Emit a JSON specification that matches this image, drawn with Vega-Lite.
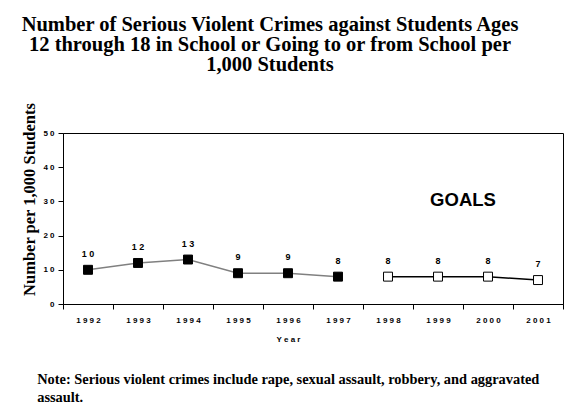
{
  "$schema": "https://vega.github.io/schema/vega-lite/v6.json",
  "autosize": {"type": "pad"},
  "padding": {"left": 20, "top": 14, "right": 0, "bottom": 0},
  "background": "white",
  "config": {
    "view": {"stroke": "black", "strokeWidth": 1},
    "axis": {"labelFont": "Liberation Sans", "labelFontWeight": "bold", "labelColor": "black", "domainColor": "black", "tickColor": "black", "grid": false}
  },
  "title": {
    "text": ["Note: Serious violent crimes include rape, sexual assault, robbery, and aggravated", "assault."],
    "orient": "bottom",
    "anchor": "start",
    "font": "Liberation Serif",
    "fontSize": 14.4,
    "fontWeight": "bold",
    "color": "black",
    "lineHeight": 18,
    "offset": 29,
    "dx": 17
  },
  "vconcat": [
    {
      "width": 500,
      "height": 171,
      "title": {
        "text": ["Number of Serious Violent Crimes against Students Ages", "12 through 18 in School or Going to or from School per", "1,000 Students"],
        "font": "Liberation Serif",
        "fontSize": 20.5,
        "fontWeight": "bold",
        "color": "black",
        "lineHeight": 20,
        "anchor": "middle",
        "dx": -43,
        "offset": 27
      },
      "data": {
        "values": [
          {"year": 1992, "value": 10, "series": "actual"},
          {"year": 1993, "value": 12, "series": "actual"},
          {"year": 1994, "value": 13, "series": "actual"},
          {"year": 1995, "value": 9, "series": "actual"},
          {"year": 1996, "value": 9, "series": "actual"},
          {"year": 1997, "value": 8, "series": "actual"},
          {"year": 1998, "value": 8, "series": "goal"},
          {"year": 1999, "value": 8, "series": "goal"},
          {"year": 2000, "value": 8, "series": "goal"},
          {"year": 2001, "value": 7, "series": "goal"}
        ]
      },
      "encoding": {
        "x": {
          "field": "year",
          "type": "ordinal",
          "scale": {"type": "band", "paddingInner": 0, "paddingOuter": 0},
          "axis": {
            "title": "Y e a r",
            "titleFont": "Liberation Sans",
            "titleFontSize": 8,
            "titleFontWeight": "bold",
            "titleColor": "black",
            "titleX": 225,
            "titlePadding": 11,
            "labelAngle": 0,
            "labelFontSize": 8,
            "labelPadding": 7,
            "tickBand": "extent",
            "tickSize": 5,
            "labelExpr": "replace(datum.label, regexp('(\\\\d)(?=\\\\d)', 'g'), '$1 ')"
          }
        },
        "y": {
          "field": "value",
          "type": "quantitative",
          "scale": {"domain": [0, 50]},
          "axis": {
            "title": "Number per 1,000 Students",
            "titleFont": "Liberation Serif",
            "titleFontSize": 16.5,
            "titleFontWeight": "bold",
            "titleColor": "black",
            "titleY": 66,
            "titlePadding": 5,
            "values": [0, 10, 20, 30, 40, 50],
            "labelFontSize": 8,
            "labelPadding": 4,
            "tickSize": 5,
            "labelExpr": "replace(datum.label, regexp('(\\\\d)(?=\\\\d)', 'g'), '$1 ')"
          }
        }
      },
      "layer": [
        {
          "mark": {"type": "line", "strokeWidth": 1.5},
          "encoding": {
            "detail": {"field": "series"},
            "stroke": {"field": "series", "type": "nominal", "scale": {"domain": ["actual", "goal"], "range": ["#808080", "#000000"]}, "legend": null}
          }
        },
        {
          "mark": {"type": "point", "shape": "square", "filled": true, "size": 80, "stroke": "black", "strokeWidth": 1, "opacity": 1},
          "encoding": {
            "fill": {"field": "series", "type": "nominal", "scale": {"domain": ["actual", "goal"], "range": ["#000000", "#ffffff"]}, "legend": null}
          }
        },
        {
          "transform": [{"calculate": "replace(toString(datum.value), regexp('(\\\\d)(?=\\\\d)', 'g'), '$1 ')", "as": "label"}],
          "mark": {"type": "text", "font": "Liberation Sans", "fontWeight": "bold", "fontSize": 9, "dy": -16, "color": "black"},
          "encoding": {"text": {"field": "label"}}
        },
        {
          "data": {"values": [{"year": 1999, "value": 30.5, "label": "GOALS"}]},
          "mark": {"type": "text", "font": "Liberation Sans", "fontWeight": "bold", "fontSize": 18.5, "color": "black"},
          "encoding": {
            "x": {"field": "year", "type": "ordinal", "bandPosition": 1},
            "text": {"field": "label"}
          }
        }
      ]
    }
  ]
}
